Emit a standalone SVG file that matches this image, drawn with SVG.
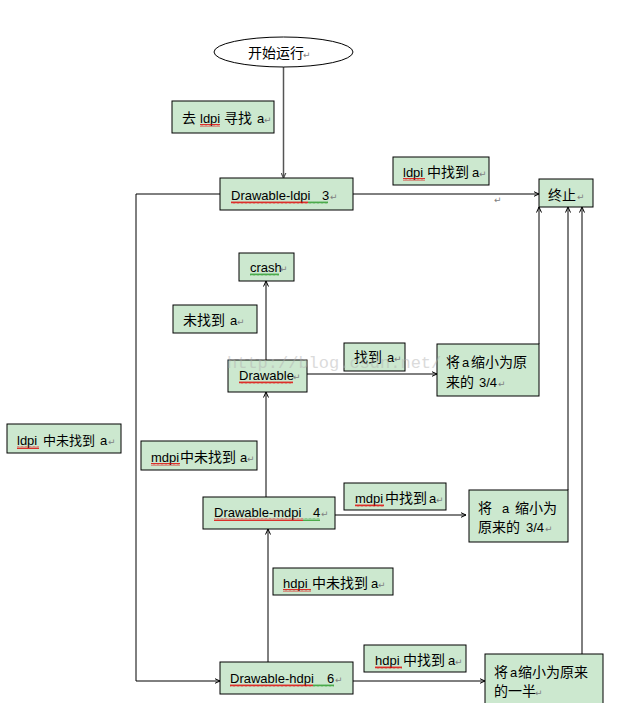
<svg xmlns="http://www.w3.org/2000/svg" width="644" height="703" viewBox="0 0 644 703">
<style>
.box{fill:#cce8cf;stroke:#000;stroke-width:1}
.t{font-family:"Liberation Sans","Noto Sans CJK SC",sans-serif;font-size:13px;fill:#000}
.c{font-size:14px}
.c13{font-size:13px}
.rm{font-family:"DejaVu Sans",sans-serif;font-size:9px;fill:#808080}
.ln{fill:none;stroke:#000;stroke-width:1;marker-end:url(#ah)}
.sr{fill:url(#wr)}
.sg{fill:url(#wg)}
</style>
<defs>
<marker id="ah" viewBox="0 0 6 6" refX="5.5" refY="3" markerWidth="6" markerHeight="6" markerUnits="userSpaceOnUse" orient="auto">
<path d="M0,0.5 L5.5,3 L0,5.5" fill="none" stroke="#000" stroke-width="1"/>
</marker>
<marker id="ahg" viewBox="0 0 6 6" refX="5.5" refY="3" markerWidth="6" markerHeight="6" markerUnits="userSpaceOnUse" orient="auto">
<path d="M0,0.5 L5.5,3 L0,5.5" fill="none" stroke="#555" stroke-width="1.2"/>
</marker>
<pattern id="wr" width="4" height="3" patternUnits="userSpaceOnUse">
<path d="M0,2.5 L1,0.5 L2,2.5 L3,0.5 L4,2.5" fill="none" stroke="#e00000" stroke-width="0.8"/>
</pattern>
<pattern id="wg" width="4" height="3" patternUnits="userSpaceOnUse">
<path d="M0,2.5 L1,0.5 L2,2.5 L3,0.5 L4,2.5" fill="none" stroke="#2a9a2a" stroke-width="0.8"/>
</pattern>
</defs>

<g id="connectors">
<line x1="283.5" y1="67" x2="283.5" y2="178" fill="none" stroke="#555" stroke-width="1.5" marker-end="url(#ahg)"/>
<path class="ln" d="M353,194 L539,194"/>
<path class="ln" d="M220,194 L136,194 L136,681 L220,681"/>
<path class="ln" d="M266,360 L266,281"/>
<path class="ln" d="M307,374 L437,374"/>
<path class="ln" d="M539,344 L539,207"/>
<path class="ln" d="M266,497 L266,392"/>
<path class="ln" d="M335,515 L466,515"/>
<path class="ln" d="M568,490 L568,207"/>
<path class="ln" d="M268,662 L268,529"/>
<path class="ln" d="M353,681 L485,681"/>
<path class="ln" d="M582,654 L582,207"/>
</g>

<g id="start">
<ellipse cx="283.5" cy="52" rx="69.5" ry="15" fill="#fff" stroke="#000" stroke-width="1"/>
<text class="t c" x="248" y="58">开始运行</text>
<text class="rm" x="303" y="58">↵</text>
</g>

<g id="label-go-ldpi">
<rect class="box" x="172" y="101" width="102" height="32"/>
<text class="t"><tspan class="c" x="182" y="123">去</tspan><tspan x="200" y="123">ldpi</tspan><tspan class="c" x="224" y="123">寻找</tspan><tspan x="257" y="123">a</tspan></text>
<text class="rm" x="264" y="123">↵</text>
<rect class="sr" x="200" y="124" width="20" height="3"/>
</g>

<g id="label-ldpi-found">
<rect class="box" x="393" y="157" width="96" height="28"/>
<text class="t"><tspan x="403" y="177">ldpi</tspan><tspan class="c" x="427" y="177">中找到</tspan><tspan x="472" y="177">a</tspan></text>
<text class="rm" x="479" y="177">↵</text>
<rect class="sr" x="403" y="178" width="22" height="3"/>
</g>

<g id="drawable-ldpi">
<rect class="box" x="220" y="178" width="133" height="32"/>
<text class="t"><tspan x="231" y="200">Drawable-ldpi</tspan><tspan x="322" y="200">3</tspan></text>
<text class="rm" x="330" y="200">↵</text>
<rect class="sr" x="231" y="201" width="77" height="3"/>
<rect class="sg" x="308" y="201" width="20" height="3"/>
</g>

<text class="rm" x="494" y="203">↵</text>

<g id="end">
<rect class="box" x="539" y="179" width="54" height="28"/>
<text class="t c" x="548" y="200">终止</text>
<text class="rm" x="577" y="200">↵</text>
</g>

<g id="crash">
<rect class="box" x="239" y="253" width="55" height="28"/>
<text class="t" x="250" y="272">crash</text>
<text class="rm" x="280" y="272">↵</text>
<rect class="sg" x="250" y="273" width="29" height="3"/>
</g>

<g id="label-not-found">
<rect class="box" x="173" y="305" width="84" height="28"/>
<text class="t"><tspan class="c" x="183" y="325">未找到</tspan><tspan x="230" y="325">a</tspan></text>
<text class="rm" x="237" y="325">↵</text>
</g>

<g id="drawable">
<rect class="box" x="228" y="360" width="79" height="32"/>
<text class="t" x="239" y="380">Drawable</text>
<text class="rm" x="293" y="380">↵</text>
<rect class="sr" x="239" y="381" width="54" height="3"/>
</g>

<g id="label-found">
<rect class="box" x="344" y="343" width="61" height="28"/>
<text class="t"><tspan class="c" x="354" y="362">找到</tspan><tspan x="387" y="362">a</tspan></text>
<text class="rm" x="394" y="362">↵</text>
</g>

<g id="scale-34-a">
<rect class="box" x="437" y="344" width="102" height="52"/>
<text class="t"><tspan class="c" x="446" y="367">将</tspan><tspan x="462" y="367">a</tspan><tspan class="c" x="471" y="367">缩小为原</tspan><tspan class="c" x="446" y="387">来的</tspan><tspan x="479" y="387">3/4</tspan></text>
<text class="rm" x="498" y="387">↵</text>
</g>

<g id="label-ldpi-not-found">
<rect class="box" x="7" y="424" width="114" height="29"/>
<text class="t"><tspan x="17" y="445">ldpi</tspan><tspan class="c13" x="43" y="445">中未找到</tspan><tspan x="100" y="445">a</tspan></text>
<text class="rm" x="108" y="445">↵</text>
<rect class="sr" x="17" y="446" width="22" height="3"/>
</g>

<g id="label-mdpi-not-found">
<rect class="box" x="141" y="441" width="116" height="29"/>
<text class="t"><tspan x="151" y="462">mdpi</tspan><tspan class="c" x="180" y="462">中未找到</tspan><tspan x="240" y="462">a</tspan></text>
<text class="rm" x="247" y="462">↵</text>
<rect class="sr" x="151" y="463" width="29" height="3"/>
</g>

<g id="drawable-mdpi">
<rect class="box" x="203" y="497" width="132" height="32"/>
<text class="t"><tspan x="214" y="517">Drawable-mdpi</tspan><tspan x="313" y="517">4</tspan></text>
<text class="rm" x="321" y="517">↵</text>
<rect class="sr" x="214" y="518" width="89" height="3"/>
<rect class="sg" x="303" y="518" width="17" height="3"/>
</g>

<g id="label-mdpi-found">
<rect class="box" x="344" y="483" width="102" height="27"/>
<text class="t"><tspan x="355" y="503">mdpi</tspan><tspan class="c" x="385" y="503">中找到</tspan><tspan x="429" y="503">a</tspan></text>
<text class="rm" x="436" y="503">↵</text>
<rect class="sr" x="355" y="504" width="29" height="3"/>
</g>

<g id="scale-34-b">
<rect class="box" x="469" y="490" width="99" height="52"/>
<text class="t"><tspan class="c" x="478" y="513">将</tspan><tspan x="502" y="513">a</tspan><tspan class="c" x="515" y="513">缩小为</tspan><tspan class="c" x="478" y="532">原来的</tspan><tspan x="526" y="532">3/4</tspan></text>
<text class="rm" x="545" y="532">↵</text>
</g>

<g id="label-hdpi-not-found">
<rect class="box" x="273" y="568" width="120" height="27"/>
<text class="t"><tspan x="283" y="588">hdpi</tspan><tspan class="c" x="312" y="588">中未找到</tspan><tspan x="371" y="588">a</tspan></text>
<text class="rm" x="378" y="588">↵</text>
<rect class="sr" x="283" y="589" width="28" height="3"/>
</g>

<g id="drawable-hdpi">
<rect class="box" x="220" y="662" width="133" height="32"/>
<text class="t"><tspan x="230" y="683">Drawable-hdpi</tspan><tspan x="327" y="683">6</tspan></text>
<text class="rm" x="335" y="683">↵</text>
<rect class="sr" x="230" y="684" width="83" height="3"/>
<rect class="sg" x="313" y="684" width="21" height="3"/>
</g>

<g id="label-hdpi-found">
<rect class="box" x="364" y="645" width="102" height="27"/>
<text class="t"><tspan x="375" y="665">hdpi</tspan><tspan class="c" x="403" y="665">中找到</tspan><tspan x="448" y="665">a</tspan></text>
<text class="rm" x="455" y="665">↵</text>
<rect class="sr" x="375" y="666" width="27" height="3"/>
</g>

<g id="scale-half">
<rect class="box" x="485" y="654" width="118" height="60"/>
<text class="t"><tspan class="c" x="494" y="677">将</tspan><tspan x="510" y="677">a</tspan><tspan class="c" x="518" y="677">缩小为原来</tspan><tspan class="c" x="494" y="696">的一半</tspan></text>
<text class="rm" x="535" y="696">↵</text>
</g>

<text x="227" y="368" font-family="Liberation Mono, monospace" font-size="17" fill="#b0b0b0" opacity="0.45">http://blog.csdn.net/</text>
</svg>
